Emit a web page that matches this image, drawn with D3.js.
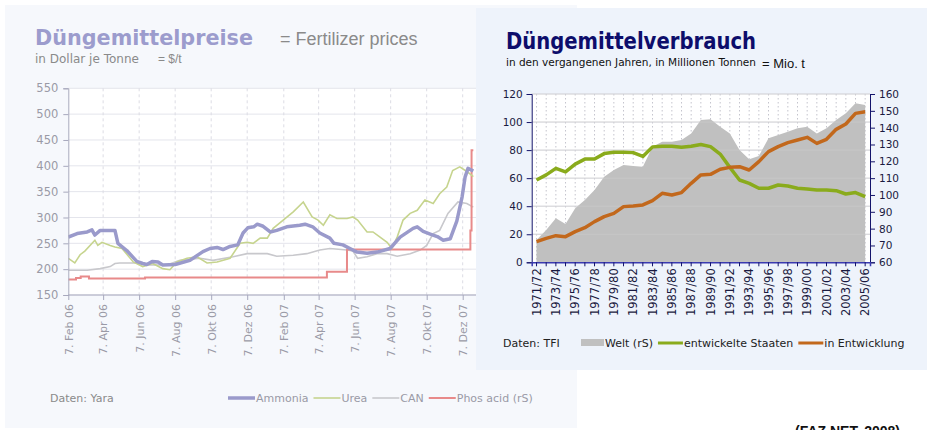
<!DOCTYPE html>
<html><head><meta charset="utf-8">
<script src="https://cdn.jsdelivr.net/npm/d3@7"></script>
<style>body{margin:0;background:#fff;} svg{display:block;}</style>
</head><body>
<svg id="c" width="927" height="430"></svg>
<script>
// ---------- DATA: left chart (Düngemittelpreise) ----------
const priceTickLabels = ["7. Feb 06","7. Apr 06","7. Jun 06","7. Aug 06","7. Okt 06","7. Dez 06","7. Feb 07","7. Apr 07","7. Jun 07","7. Aug 07","7. Okt 07","7. Dez 07"];
const priceTickDates = ["2006-02-07","2006-04-07","2006-06-07","2006-08-07","2006-10-07","2006-12-07","2007-02-07","2007-04-07","2007-06-07","2007-08-07","2007-10-07","2007-12-07"];
const priceYTicks = [150,200,250,300,350,400,450,500,550];
const ammonia = [["2006-02-07",262],["2006-02-22",269],["2006-03-11",272],["2006-03-19",276],["2006-03-24",266],["2006-04-02",275],["2006-04-27",275],["2006-05-02",250],["2006-05-17",236],["2006-06-03",215],["2006-06-13",211],["2006-06-20",209],["2006-06-29",215],["2006-07-09",214],["2006-07-17",208],["2006-08-07",209],["2006-09-01",217],["2006-09-23",234],["2006-10-05",240],["2006-10-17",242],["2006-10-27",238],["2006-11-08",244],["2006-11-21",247],["2006-11-30",270],["2006-12-08",280],["2006-12-18",282],["2006-12-24",287],["2007-01-03",283],["2007-01-15",272],["2007-01-26",275],["2007-02-12",282],["2007-03-06",285],["2007-03-15",287],["2007-03-28",282],["2007-04-09",270],["2007-04-26",260],["2007-05-03",250],["2007-05-18",247],["2007-05-30",240],["2007-06-11",233],["2007-06-28",231],["2007-07-15",233],["2007-08-06",240],["2007-08-23",262],["2007-09-14",279],["2007-09-21",282],["2007-10-01",273],["2007-10-13",268],["2007-10-25",263],["2007-11-04",256],["2007-11-16",259],["2007-11-27",293],["2007-12-06",340],["2007-12-11",378],["2007-12-16",395],["2007-12-25",390]];
const urea = [["2006-02-07",221],["2006-02-18",212],["2006-02-27",228],["2006-03-07",235],["2006-03-24",256],["2006-03-29",246],["2006-04-05",252],["2006-04-19",246],["2006-04-27",243],["2006-05-09",240],["2006-05-28",214],["2006-06-13",205],["2006-06-30",211],["2006-07-17",201],["2006-07-29",199],["2006-08-10",214],["2006-08-27",221],["2006-09-13",224],["2006-09-30",212],["2006-10-17",214],["2006-11-08",221],["2006-11-25",250],["2006-12-07",252],["2006-12-17",250],["2006-12-29",260],["2007-01-10",260],["2007-01-20",279],["2007-02-06",295],["2007-02-23",311],["2007-03-12",330],["2007-03-27",301],["2007-04-06",295],["2007-04-15",285],["2007-04-26",305],["2007-05-08",298],["2007-05-25",298],["2007-06-04",301],["2007-06-12",295],["2007-06-28",272],["2007-07-08",272],["2007-07-20",262],["2007-08-01",252],["2007-08-09",240],["2007-08-18",262],["2007-08-28",295],["2007-09-09",308],["2007-09-21",314],["2007-10-04",334],["2007-10-18",327],["2007-10-29",346],["2007-11-10",359],["2007-11-20",391],["2007-12-02",398],["2007-12-14",389],["2007-12-25",379]];
const can = [["2006-02-07",198],["2006-03-11",198],["2006-04-02",201],["2006-04-19",205],["2006-04-27",211],["2006-05-05",212],["2006-06-03",212],["2006-06-20",208],["2006-07-24",208],["2006-08-15",217],["2006-09-18",221],["2006-10-10",217],["2006-11-13",224],["2006-12-07",230],["2007-01-10",230],["2007-01-26",225],["2007-02-23",227],["2007-03-18",230],["2007-04-09",237],["2007-04-26",240],["2007-05-25",237],["2007-06-04",235],["2007-06-12",221],["2007-06-28",224],["2007-07-15",230],["2007-08-01",230],["2007-08-18",225],["2007-09-09",230],["2007-09-26",237],["2007-10-07",246],["2007-10-18",269],["2007-10-29",275],["2007-11-12",308],["2007-11-29",330],["2007-12-14",327],["2007-12-25",320]];
const phosAcid = [["2006-02-07",180],["2006-02-20",183],["2006-02-28",186],["2006-03-14",182],["2006-06-17",184],["2007-04-21",195],["2007-05-25",238],["2007-12-20",275],["2007-12-22",430],["2007-12-25",430]];

// ---------- DATA: right chart (Düngemittelverbrauch) ----------
const seasons = ["1971/72","1972/73","1973/74","1974/75","1975/76","1976/77","1977/78","1978/79","1979/80","1980/81","1981/82","1982/83","1983/84","1984/85","1985/86","1986/87","1987/88","1988/89","1989/90","1990/91","1991/92","1992/93","1993/94","1994/95","1995/96","1996/97","1997/98","1998/99","1999/00","2000/01","2001/02","2002/03","2003/04","2004/05","2005/06"];
const welt = [73.3,79.2,86.1,82.8,92.1,97.0,103.0,110.9,114.9,117.8,117.2,116.8,128.7,131.7,131.7,132.7,136.6,144.6,145.0,140.6,136.6,126.7,121.2,123.2,133.7,135.6,137.6,139.6,140.6,136.6,139.6,144.6,148.5,154.5,153.5];
const entwickelt = [58.7,62.3,67.0,64.4,70.0,73.6,73.6,77.5,78.4,78.4,78.2,75.5,82.3,82.7,82.7,82.0,82.7,84.0,82.5,77.2,67.7,58.7,56.3,52.8,52.8,55.1,54.4,52.8,52.3,51.6,51.6,51.1,48.7,49.7,46.8];
const entwicklung = [14.7,17.1,19.0,18.3,21.9,24.7,29.0,32.6,34.9,39.7,40.2,40.9,44.0,49.2,48.0,49.7,56.3,62.3,62.7,66.3,67.7,68.2,65.8,71.8,78.9,82.5,85.3,87.2,89.1,84.8,87.7,94.8,98.6,106.2,107.4];
const leftTicks = [0,20,40,60,80,100,120];
const rightTicks = [60,70,80,90,100,110,120,130,140,150,160];

// ---------- DRAWING ----------
const svg = d3.select("#c");
const parse = d3.timeParse("%Y-%m-%d");
const DV = "'DejaVu Sans', Verdana, sans-serif";
const AR = "'Liberation Sans', Arial, sans-serif";

// ===== Left panel =====
svg.append("rect").attr("x",5).attr("y",5).attr("width",572).attr("height",423).attr("fill","#f6f8fc");
const L = {x0:68.3, x1:462.7, top:88.3, bottom:295, right:476};
const xT = d3.scaleTime().domain([parse("2006-02-07"), parse("2007-12-07")]).range([L.x0, L.x1]);
const yP = d3.scaleLinear().domain([150,550]).range([L.bottom, L.top]);
const gL = svg.append("g");
gL.append("rect").attr("x",L.x0).attr("y",L.top).attr("width",L.right-L.x0).attr("height",L.bottom-L.top).attr("fill","#fff");
gL.selectAll(".hg").data(priceYTicks).join("line")
  .attr("x1",L.x0).attr("x2",L.right).attr("y1",d=>yP(d)).attr("y2",d=>yP(d))
  .attr("stroke","#e4e5ec").attr("stroke-width",1);
const tDates = priceTickDates.map(parse);
gL.selectAll(".vg").data(tDates.slice(1)).join("line")
  .attr("x1",d=>xT(d)).attr("x2",d=>xT(d)).attr("y1",L.top).attr("y2",L.bottom)
  .attr("stroke","#dcdce4").attr("stroke-dasharray","3,3");

const lineT = d3.line().x(d=>xT(parse(d[0]))).y(d=>yP(d[1]));
const stepT = d3.line().curve(d3.curveStepAfter).x(d=>xT(parse(d[0]))).y(d=>yP(d[1]));
svg.append("clipPath").attr("id","lc").append("rect").attr("x",L.x0).attr("y",60).attr("width",L.right-L.x0).attr("height",L.bottom-60);
const gLines = gL.append("g").attr("clip-path","url(#lc)");
gLines.append("path").datum(can).attr("d",lineT).attr("fill","none").attr("stroke","#c8c8cc").attr("stroke-width",1.6);
gLines.append("path").datum(phosAcid).attr("d",stepT).attr("fill","none").attr("stroke","#e88a8a").attr("stroke-width",2);
gLines.append("path").datum(urea).attr("d",lineT).attr("fill","none").attr("stroke","#c6d48e").attr("stroke-width",1.6);
gLines.append("path").datum(ammonia).attr("d",lineT).attr("fill","none").attr("stroke","#9a9acb").attr("stroke-width",3.5).attr("stroke-linejoin","round");

// axes
const axL = gL.append("g").attr("transform",`translate(${L.x0},0)`)
  .call(d3.axisLeft(yP).tickValues(priceYTicks).tickSize(5).tickPadding(5));
axL.select(".domain").attr("stroke","#a7a8bd");
axL.selectAll(".tick line").attr("stroke","#a7a8bd");
axL.selectAll(".tick text").attr("fill","#9a9aa6").style("font-family",DV).style("font-size","11.5px");
const axB = gL.append("g").attr("transform",`translate(0,${L.bottom})`)
  .call(d3.axisBottom(xT).tickValues(tDates).tickSize(5).tickFormat((d,i)=>priceTickLabels[i]));
axB.select(".domain").attr("stroke","#a7a8bd").attr("d",`M${L.x0},0H${L.right}`);
axB.selectAll(".tick line").attr("stroke","#a7a8bd");
axB.selectAll(".tick text").attr("fill","#9a9aa6").style("font-family",DV).style("font-size","11px")
  .attr("text-anchor","end").attr("transform","rotate(-90)").attr("x",-9).attr("y",0).attr("dy","0.35em");

// titles
svg.append("text").attr("x",35).attr("y",45).text("Düngemittelpreise")
  .style("font-family",DV).style("font-weight","bold").style("font-size","21px").attr("fill","#9c9ccd")
  .attr("textLength",218).attr("lengthAdjust","spacingAndGlyphs");
svg.append("text").attr("x",280).attr("y",45).text("= Fertilizer prices")
  .style("font-family",AR).style("font-size","18px").attr("fill","#8a8a8a");
svg.append("text").attr("x",35).attr("y",63).text("in Dollar je Tonne")
  .style("font-family",DV).style("font-size","12px").attr("fill","#8a8a8a");
svg.append("text").attr("x",158).attr("y",63).text("= $/t")
  .style("font-family",AR).style("font-size","12px").attr("fill","#8a8a8a");

// legend left
svg.append("text").attr("x",50).attr("y",402).text("Daten: Yara")
  .style("font-family",DV).style("font-size","11px").attr("fill","#8a8a8a");
const legL = [{n:"Ammonia",c:"#9a9acb",w:3.5},{n:"Urea",c:"#c6d48e",w:1.6},{n:"CAN",c:"#c8c8cc",w:1.6},{n:"Phos acid (rS)",c:"#e88a8a",w:2}];
let lx = 228;
legL.forEach(it=>{
  svg.append("line").attr("x1",lx).attr("x2",lx+27).attr("y1",398).attr("y2",398).attr("stroke",it.c).attr("stroke-width",it.w);
  const t = svg.append("text").attr("x",lx+28).attr("y",402).text(it.n)
    .style("font-family",DV).style("font-size","11px").attr("fill","#9a9aa6");
  lx += 28 + t.node().getComputedTextLength() + 5;
});

// ===== Right panel =====
svg.append("rect").attr("x",476).attr("y",8).attr("width",451).attr("height",362).attr("fill","#eef3fb");
const R = {x0:531.7, x1:870, top:94, bottom:262.3};
const xB = d3.scaleBand().domain(seasons).range([R.x0, R.x1]);
const cx = d=>xB(d)+xB.bandwidth()/2;
const yLs = d3.scaleLinear().domain([0,120]).range([R.bottom, R.top]);
const yRs = d3.scaleLinear().domain([60,160]).range([R.bottom, R.top]);
const gR = svg.append("g");
gR.append("rect").attr("x",R.x0).attr("y",R.top).attr("width",R.x1-R.x0).attr("height",R.bottom-R.top).attr("fill","#fff");
gR.selectAll(".vg").data(seasons).join("line")
  .attr("x1",d=>cx(d)).attr("x2",d=>cx(d)).attr("y1",R.top).attr("y2",R.bottom)
  .attr("stroke","#b5b5c0").attr("stroke-width",0.8).attr("stroke-dasharray","1.5,2.5");
gR.selectAll(".hg").data(leftTicks.slice(1)).join("line")
  .attr("x1",R.x0).attr("x2",R.x1).attr("y1",d=>yLs(d)).attr("y2",d=>yLs(d))
  .attr("stroke","#d2d2d8").attr("stroke-width",1);
const area = d3.area().x((d,i)=>cx(seasons[i])).y0(R.bottom).y1(d=>yRs(d));
gR.append("path").datum(welt).attr("d",area).attr("fill","#c0c0c0");
gR.selectAll(".hg2").data(leftTicks.slice(1)).join("line")
  .attr("x1",R.x0).attr("x2",R.x1).attr("y1",d=>yLs(d)).attr("y2",d=>yLs(d))
  .attr("stroke","#d8d8d8").attr("stroke-opacity",0.35).attr("stroke-width",1);
const lineR = d3.line().x((d,i)=>cx(seasons[i])).y(d=>yLs(d));
gR.append("path").datum(entwickelt).attr("d",lineR).attr("fill","none").attr("stroke","#8aab1c").attr("stroke-width",3.5).attr("stroke-linejoin","round");
gR.append("path").datum(entwicklung).attr("d",lineR).attr("fill","none").attr("stroke","#c2681c").attr("stroke-width",3.5).attr("stroke-linejoin","round");

const navy = "#14146b";
const aL = gR.append("g").attr("transform",`translate(${R.x0},0)`)
  .call(d3.axisLeft(yLs).tickValues(leftTicks).tickSize(5).tickPadding(4));
const aR = gR.append("g").attr("transform",`translate(${R.x1},0)`)
  .call(d3.axisRight(yRs).tickValues(rightTicks).tickSize(5).tickPadding(4));
const aB = gR.append("g").attr("transform",`translate(0,${R.bottom})`)
  .call(d3.axisBottom(xB).tickSize(4).tickFormat((d,i)=> i%2===0 ? d : ""));
[aL,aR].forEach(a=>{
  a.select(".domain").attr("stroke",navy);
  a.selectAll(".tick line").attr("stroke",navy);
  a.selectAll(".tick text").attr("fill","#1a1a40").style("font-family",DV).style("font-size","10.5px");
});
aB.select(".domain").attr("stroke","#3a3ab0").attr("stroke-width",1.5);
aB.selectAll(".tick line").attr("stroke",navy);
aB.selectAll(".tick text").attr("fill","#1a1a40").style("font-family",DV).style("font-size","11.5px")
  .attr("text-anchor","end").attr("transform","rotate(-90)").attr("x",-6).attr("y",0).attr("dy","0.35em");

svg.append("text").attr("x",506).attr("y",49).text("Düngemittelverbrauch")
  .style("font-family",DV).style("font-weight","bold").style("font-size","23px").attr("fill","#0d0d6b")
  .attr("textLength",250).attr("lengthAdjust","spacingAndGlyphs");
svg.append("text").attr("x",506).attr("y",66).text("in den vergangenen Jahren, in Millionen Tonnen")
  .style("font-family",DV).style("font-size","10.5px").attr("fill","#111")
  .attr("textLength",250).attr("lengthAdjust","spacingAndGlyphs");
svg.append("text").attr("x",762).attr("y",68).text("= Mio. t")
  .style("font-family",AR).style("font-size","13px").attr("fill","#111");

// legend right
svg.append("text").attr("x",503).attr("y",347).text("Daten: TFI")
  .style("font-family",DV).style("font-size","11px").attr("fill","#222");
let rx = 581;
svg.append("rect").attr("x",rx).attr("y",339).attr("width",23).attr("height",7).attr("fill","#c0c0c0");
let t1 = svg.append("text").attr("x",rx+24).attr("y",347).text("Welt (rS)").style("font-family",DV).style("font-size","11px").attr("fill","#222");
rx += 24 + t1.node().getComputedTextLength() + 5;
[{n:"entwickelte Staaten",c:"#8aab1c"},{n:"in Entwicklung",c:"#c2681c"}].forEach(it=>{
  svg.append("line").attr("x1",rx).attr("x2",rx+25).attr("y1",343).attr("y2",343).attr("stroke",it.c).attr("stroke-width",3);
  const t = svg.append("text").attr("x",rx+26).attr("y",347).text(it.n).style("font-family",DV).style("font-size","11px").attr("fill","#222");
  rx += 26 + t.node().getComputedTextLength() + 5;
});

svg.append("text").attr("x",795).attr("y",436).text("(FAZ.NET, 2008)")
  .style("font-family",AR).style("font-weight","bold").style("font-size","14px").attr("fill","#111");
</script>
</body></html>
